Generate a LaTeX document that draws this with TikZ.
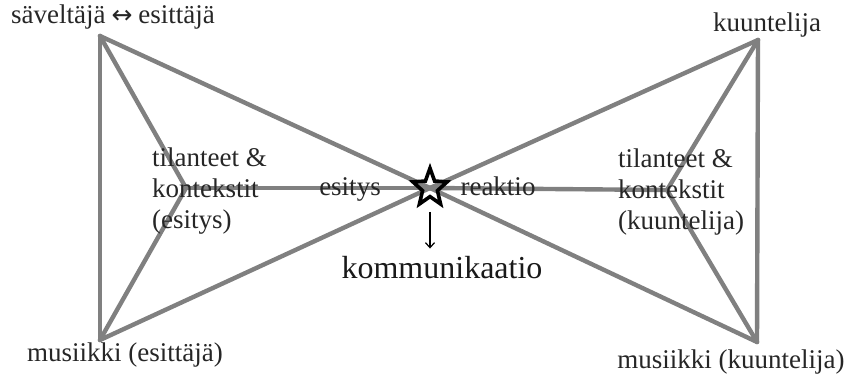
\documentclass[tikz,border=0pt]{standalone}
\usepackage{fontspec}
\setmainfont{Liberation Serif}
\newfontfamily\arrowfont{DejaVu Sans}
\usetikzlibrary{shapes.geometric,arrows.meta}
\begin{document}
\begin{tikzpicture}[x=1pt,y=1pt,
  edge/.style={draw=black!50,line width=4.4pt,line cap=round,line join=round},
  lbl/.style={inner sep=0pt,font=\fontsize{27}{31}\selectfont,text=black!85},
  biglbl/.style={inner sep=0pt,font=\fontsize{32}{36}\selectfont,text=black!90}]
\useasboundingbox (0,0) rectangle (847,379);
\coordinate (TL) at (100,343);
\coordinate (BL) at (100,39);
\coordinate (IL) at (186,191);
\coordinate (S) at (430,191);
\coordinate (IR) at (667,189);
\coordinate (TR) at (758,339);
\coordinate (BR) at (757,37);
% left triangle
\draw[edge] (TL) -- (BL);
\draw[edge] (TL) -- (IL) -- (BL);
\draw[edge] (TL) -- (S);
\draw[edge] (BL) -- (S);
\draw[edge] (IL) -- (S);
% right triangle
\draw[edge] (TR) -- (BR);
\draw[edge] (TR) -- (IR) -- (BR);
\draw[edge] (TR) -- (S);
\draw[edge] (BR) -- (S);
\draw[edge] (IR) -- (S);
% labels
\node[lbl] (comp) at (113,362) {säveltäjä\hspace{6pt}{\arrowfont\fontsize{25}{30}\selectfont ↔}\hspace{6pt}esittäjä};
\node[lbl] (list) at (767,354) {kuuntelija};
\node[lbl,align=left,anchor=west] (ctxl) at (152,188) {tilanteet \&\\kontekstit\\(esitys)};
\node[lbl,align=left,anchor=west] (ctxr) at (618,187) {tilanteet \&\\kontekstit\\(kuuntelija)};
\node[lbl,anchor=base] (esit) at (350,183) {esitys};
\node[lbl,anchor=base] (reak) at (498,183) {reaktio};
\node[lbl] (musl) at (125,24) {musiikki (esittäjä)};
\node[lbl] (musr) at (731,17) {musiikki (kuuntelija)};
\node[biglbl] (komm) at (442,111) {kommunikaatio};
% star
\node[star,star points=5,star point ratio=2.3,draw=black,line width=3.6pt,minimum size=36pt,inner sep=0pt,yscale=1.1] (star) at (S) {};
\coordinate (arrS) at (430,167);
\draw[-{Straight Barb[length=5pt,width=9pt]},line width=1.2pt] (arrS) -- ([yshift=8pt]komm.north -| arrS);
\end{tikzpicture}
\end{document}
